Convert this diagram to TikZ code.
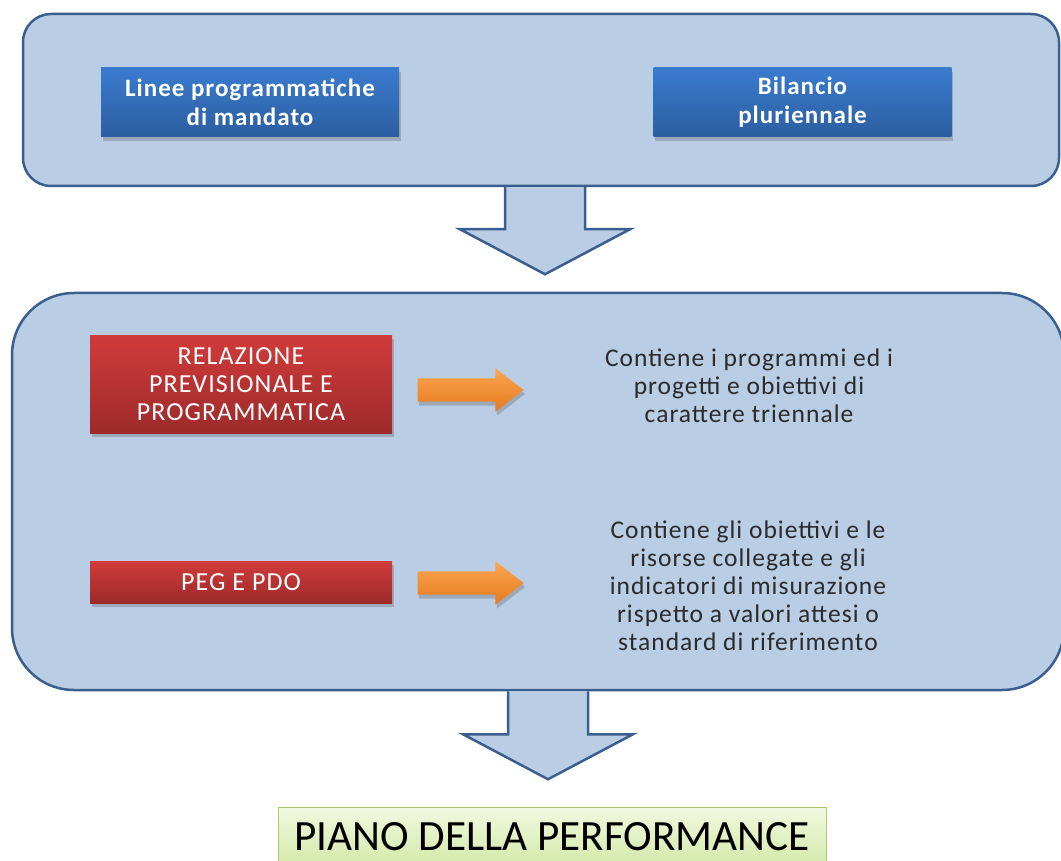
\documentclass[tikz,border=0pt]{standalone}
\usepackage{fontspec}
\setmainfont{Carlito}[LetterSpace=4]
\newfontfamily\pianofont{Carlito}
\usetikzlibrary{shapes.arrows,shadows,calc}

\definecolor{pannello}{HTML}{B9CDE5}
\definecolor{bordo}{HTML}{3A5F8F}
\definecolor{bluchiaro}{HTML}{3A7BCF}
\definecolor{bluscuro}{HTML}{2C5E9F}
\definecolor{rossochiaro}{HTML}{D13B3B}
\definecolor{rossoscuro}{HTML}{9E2A2A}
\definecolor{aranciochiaro}{HTML}{FBA650}
\definecolor{aranciscuro}{HTML}{E57A1F}
\definecolor{verdechiaro}{HTML}{F2F9E1}
\definecolor{verdescuro}{HTML}{D3E8A6}
\definecolor{verdebordo}{HTML}{A9C96B}
\definecolor{testo}{HTML}{2B2B2B}

\begin{document}
\begin{tikzpicture}[x=1pt,y=-1pt,
    panel/.style={draw=bordo, line width=2.5pt, fill=pannello, inner sep=0pt},
    bigarrow/.style={draw=bordo, line width=2.5pt, fill=pannello, line join=miter},
    ombra/.style={drop shadow={shadow xshift=1.5pt, shadow yshift=-4pt, opacity=.35, fill=black!60}},
    bluebox/.style={ombra, top color=bluchiaro, bottom color=bluscuro, inner sep=0pt,
      minimum width=298pt, minimum height=69pt, text=white, align=center,
      font=\fontsize{25}{29}\selectfont\bfseries},
    redbox/.style={ombra, top color=rossochiaro, bottom color=rossoscuro, inner sep=0pt,
      minimum width=302pt, text=white, align=center,
      font=\fontsize{26}{28}\selectfont},
    orangearrow/.style={single arrow, ombra, top color=aranciochiaro, bottom color=aranciscuro,
      inner xsep=0pt, inner ysep=11.5pt, minimum height=106pt,
      single arrow head extend=10pt, single arrow tip angle=75},
    nota/.style={text=testo, align=center, font=\fontsize{25.5}{28}\selectfont},
    pianobox/.style={draw=verdebordo, line width=1pt, top color=verdechiaro, bottom color=verdescuro,
      inner sep=0pt, minimum width=548pt, minimum height=60pt,
      font=\pianofont\fontsize{43.2}{48}\selectfont, text=black}
  ]
  \useasboundingbox (0,0) rectangle (1061,861);

  % panels
  \node[panel, rounded corners=28pt, minimum width=1036pt, minimum height=172pt] (strategia) at (541,100) {};
  \node[panel, rounded corners=62pt, minimum width=1052pt, minimum height=397pt] (gestione) at (538,491.5) {};

  % top boxes
  \node[bluebox] (linee) at (250,102.5) {Linee programmatiche\\di mandato};
  \node[bluebox] (bilancio) at (802.5,102.5) {Bilancio\\pluriennale};

  % down arrows
  \draw[bigarrow] ($(strategia.south)+(-36,0)$) -- ++(0,42) -- ++(-45,0) -- ++(85,45)
    -- ++(85,-45) -- ++(-45,0) -- ++(0,-42);
  \draw[bigarrow] ($(gestione.south)+(-30,0)$) -- ++(0,43) -- ++(-45,0) -- ++(85,45)
    -- ++(85,-45) -- ++(-45,0) -- ++(0,-43);

  % middle boxes
  \node[redbox, minimum height=98pt] (rpp) at (241,384) {RELAZIONE\\PREVISIONALE E\\PROGRAMMATICA};
  \node[redbox, minimum height=42pt] (peg) at (241,582) {PEG E PDO};

  \node[orangearrow] (freccia1) at (463,390) {};
  \node[orangearrow] (freccia2) at (463,583) {};

  \node[nota] (nota1) at (749,386) {Contiene i programmi ed i\\progetti e obiettivi di\\carattere triennale};
  \node[nota] (nota2) at (748,586) {Contiene gli obiettivi e le\\risorse collegate e gli\\indicatori di misurazione\\rispetto a valori attesi o\\standard di riferimento};

  % result
  \node[pianobox] (piano) at (552,837) {PIANO DELLA PERFORMANCE};
\end{tikzpicture}
\end{document}
